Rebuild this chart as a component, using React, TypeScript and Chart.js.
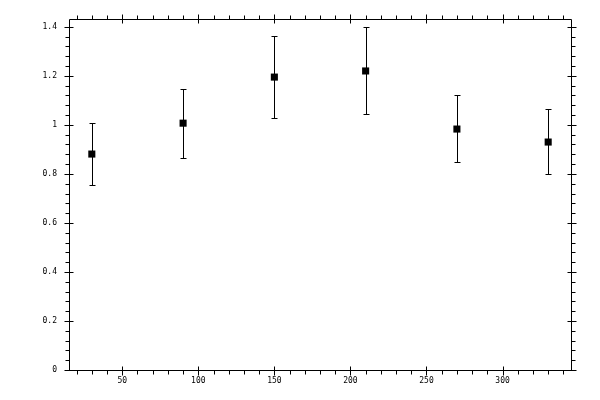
import React, { useEffect, useRef } from "react";
import { Chart, registerables } from "chart.js";

Chart.register(...registerables);

const xValues = [30, 90, 150, 210, 270, 330];
const yValues = [0.881, 1.007, 1.195, 1.22, 0.983, 0.93];
const yLow = [0.754, 0.865, 1.028, 1.044, 0.849, 0.8];
const yHigh = [1.006, 1.146, 1.364, 1.401, 1.122, 1.065];

const xTicks = [50, 100, 150, 200, 250, 300];
const yTicks = [0, 0.2, 0.4, 0.6, 0.8, 1, 1.2, 1.4];
const xMin = 15;
const xMax = 345;
const yMin = 0;
const yMax = 1.432;
const xMinorStep = 10;
const yMinorStep = 0.04;

const FONT = "'DejaVu Sans Mono', monospace";

const frameAndTicks = {
  id: "frameAndTicks",
  afterDraw(chart: any) {
    const { ctx, chartArea } = chart;
    const xs = chart.scales.x;
    const ys = chart.scales.y;
    const L = Math.round(chartArea.left) + 0.5;
    const R = Math.round(chartArea.right) + 0.5;
    const T = Math.round(chartArea.top) + 0.5;
    const B = Math.round(chartArea.bottom) + 0.5;
    ctx.save();
    ctx.strokeStyle = "#000";
    ctx.lineWidth = 1;
    ctx.beginPath();
    ctx.rect(L, T, R - L, B - T);
    // minor ticks (outward)
    for (let v = Math.ceil(xMin / xMinorStep) * xMinorStep; v <= xMax; v += xMinorStep) {
      if (xTicks.includes(v)) continue;
      const px = Math.round(xs.getPixelForValue(v)) + 0.5;
      ctx.moveTo(px, B);
      ctx.lineTo(px, B + 4);
      ctx.moveTo(px, T);
      ctx.lineTo(px, T - 4);
    }
    for (let i = 0; i * yMinorStep <= yMax + 1e-9; i++) {
      const v = i * yMinorStep;
      if (i % 5 === 0) continue;
      const py = Math.round(ys.getPixelForValue(v)) + 0.5;
      ctx.moveTo(L, py);
      ctx.lineTo(L - 4, py);
      ctx.moveTo(R, py);
      ctx.lineTo(R + 4, py);
    }
    // major ticks (crossing)
    xTicks.forEach((v) => {
      const px = Math.round(xs.getPixelForValue(v)) + 0.5;
      ctx.moveTo(px, B - 4);
      ctx.lineTo(px, B + 5);
      ctx.moveTo(px, T - 5);
      ctx.lineTo(px, T + 4);
    });
    yTicks.forEach((v) => {
      const py = Math.round(ys.getPixelForValue(v)) + 0.5;
      ctx.moveTo(L - 5, py);
      ctx.lineTo(L + 4, py);
      ctx.moveTo(R - 4, py);
      ctx.lineTo(R + 5, py);
    });
    ctx.stroke();
    ctx.restore();
  },
};

const errorBars = {
  id: "errorBars",
  afterDatasetsDraw(chart: any) {
    const { ctx } = chart;
    const xs = chart.scales.x;
    const ys = chart.scales.y;
    ctx.save();
    ctx.strokeStyle = "#000";
    ctx.lineWidth = 1;
    ctx.beginPath();
    xValues.forEach((xv, i) => {
      const px = Math.round(xs.getPixelForValue(xv)) + 0.5;
      const pl = Math.round(ys.getPixelForValue(yLow[i])) + 0.5;
      const ph = Math.round(ys.getPixelForValue(yHigh[i])) + 0.5;
      ctx.moveTo(px, pl);
      ctx.lineTo(px, ph);
      ctx.moveTo(px - 3, pl);
      ctx.lineTo(px + 3, pl);
      ctx.moveTo(px - 3, ph);
      ctx.lineTo(px + 3, ph);
    });
    ctx.stroke();
    ctx.restore();
  },
};

export default function App() {
  const ref = useRef<HTMLCanvasElement>(null);
  useEffect(() => {
    document.body.style.margin = "0";
    const chart = new Chart(ref.current!, {
      type: "scatter",
      data: {
        datasets: [
          {
            data: xValues.map((x, i) => ({ x, y: yValues[i] })),
            pointStyle: "rect",
            pointRadius: 5,
            pointHoverRadius: 5,
            backgroundColor: "#000",
            borderColor: "#000",
            borderWidth: 0,
          },
        ],
      },
      options: {
        animation: false,
        responsive: false,
        events: [],
        layout: { padding: { top: 19, right: 29, left: 0, bottom: 0 } },
        plugins: { legend: { display: false }, tooltip: { enabled: false } },
        scales: {
          x: {
            type: "linear",
            min: xMin,
            max: xMax,
            afterBuildTicks: (s: any) => {
              s.ticks = xTicks.map((v) => ({ value: v }));
            },
            afterFit: (s: any) => {
              s.height = 30;
            },
            grid: { display: false, drawTicks: false },
            border: { display: false },
            ticks: {
              padding: 6,
              color: "#000",
              font: { family: FONT, size: 8 },
              maxRotation: 0,
              callback: (v: any) => String(v),
            },
          },
          y: {
            type: "linear",
            min: yMin,
            max: yMax,
            afterBuildTicks: (s: any) => {
              s.ticks = yTicks.map((v) => ({ value: v }));
            },
            afterFit: (s: any) => {
              s.width = 69;
            },
            grid: { display: false, drawTicks: false },
            border: { display: false },
            ticks: {
              padding: 12,
              color: "#000",
              font: { family: FONT, size: 8 },
              callback: (v: any) => String(Math.round(v * 10) / 10),
            },
          },
        },
      },
      plugins: [frameAndTicks, errorBars],
    } as any);
    return () => chart.destroy();
  }, []);
  return (
    <div style={{ width: 600, height: 400 }}>
      <canvas ref={ref} width={600} height={400} />
    </div>
  );
}
